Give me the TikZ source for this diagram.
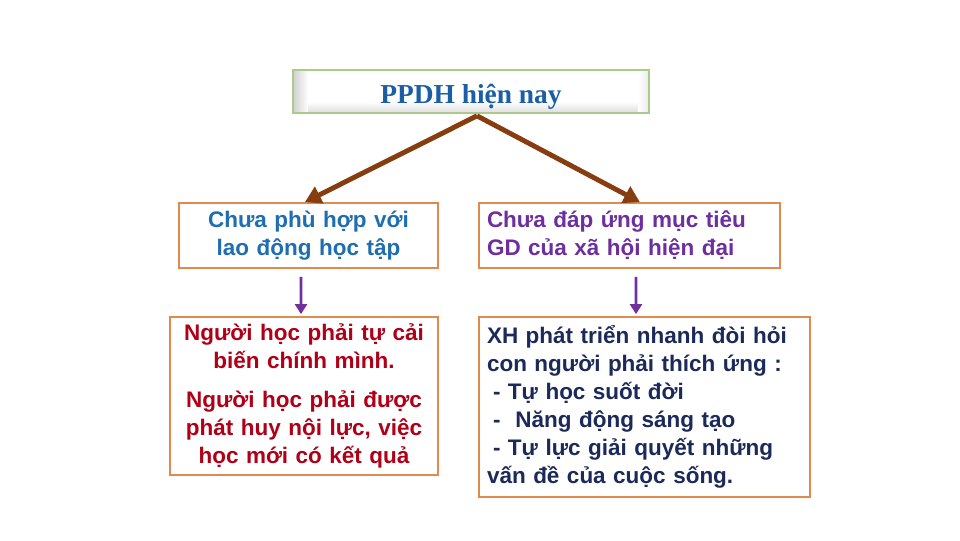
\documentclass[tikz,border=0pt]{standalone}
\usepackage{fontspec}
\setmainfont{Liberation Sans}
\newfontfamily\titlefont{Liberation Serif}
\usetikzlibrary{arrows.meta,backgrounds}
\definecolor{titlegreen}{HTML}{A9CB8C}
\definecolor{titleblue}{HTML}{1A5FA6}
\definecolor{boxorange}{HTML}{E08A4E}
\definecolor{arrowbrown}{HTML}{873D10}
\definecolor{arrowpurple}{HTML}{7030A0}
\definecolor{textblue}{HTML}{1F6EB0}
\definecolor{textpurple}{HTML}{6E2F9E}
\definecolor{textred}{HTML}{B00018}
\definecolor{textnavy}{HTML}{1C2A5A}

\begin{document}
\begin{tikzpicture}[
    titlebox/.style = {draw=titlegreen, line width=1.2pt, minimum width=8.9cm,
        minimum height=1.075cm, text height=0.67cm, text depth=0.05cm},
    textbox/.style = {draw=boxorange, line width=1.3pt, fill=white, inner xsep=0.2cm,
        font=\bfseries\fontsize{16}{20}\selectfont},
    brownarrow/.style = {draw=arrowbrown, line width=3.5pt,
        -{Triangle[length=0.4cm,width=0.45cm]}},
    purplearrow/.style = {draw=arrowpurple, line width=2pt,
        -{Triangle[length=0.25cm,width=0.3cm]}}
]
    \useasboundingbox (0,0) rectangle (24,13.5);
    % tieu de
    \node[titlebox, text=titleblue, font=\titlefont\bfseries\fontsize{19.5}{22}\selectfont]
        (title) at (11.775,11.2125) {PPDH hiện nay};
    % vien noi cua tieu de
    \begin{pgfonlayer}{background}
        \shade[bottom color=gray!25, top color=white]
            ([shift={(1.2pt,1.2pt)}]title.south west) rectangle ([shift={(-1.2pt,0.3cm)}]title.south east);
        \shade[left color=gray!35, right color=white]
            ([shift={(1.2pt,1.2pt)}]title.south west) rectangle ([shift={(0.4cm,-1.2pt)}]title.north west);
        \shade[right color=gray!15, left color=white]
            ([shift={(-0.3cm,1.2pt)}]title.south east) rectangle ([shift={(-1.2pt,-1.2pt)}]title.north east);
    \end{pgfonlayer}
    \coordinate (apex) at ([xshift=0.15cm,yshift=-0.05cm]title.south);
    % hang thu nhat
    \node[textbox, text=textblue, text width=6.075cm, align=center, minimum height=1.625cm]
        (left1) at (7.7125,7.6125) {Chưa phù hợp với\\ lao động học tập};
    \node[textbox, text=textpurple, text width=7.125cm, align=left, minimum height=1.625cm]
        (right1) at (15.7375,7.6125) {Chưa đáp ứng mục tiêu\\ GD của xã hội hiện đại};
    % hang thu hai
    \node[textbox, text=textred, text width=6.3cm, align=center, minimum height=3.95cm]
        (left2) at (7.6,3.6) {Người học phải tự cải\\ biến chính mình.\\[0.25cm]
        Người học phải được\\ phát huy nội lực, việc\\ học mới có kết quả};
    \node[textbox, text=textnavy, text width=7.875cm, align=left, minimum height=4.5cm]
        (right2) at (16.1125,3.325) {XH phát triển nhanh đòi hỏi\\ con người phải thích ứng :\\
        \hspace*{0.15cm}- Tự học suốt đời\\ \hspace*{0.15cm}-\ \ Năng động sáng tạo\\
        \hspace*{0.15cm}- Tự lực giải quyết những\\ vấn đề của cuộc sống.};
    % mui ten
    \draw[brownarrow] (apex) -- ([xshift=-0.09cm]left1.north);
    \draw[brownarrow] (apex) -- ([xshift=0.26cm]right1.north);
    \draw[purplearrow] ([shift={(-0.19,-0.2)}]left1.south) -- ([shift={(-0.075,0.05)}]left2.north);
    \draw[purplearrow] ([shift={(0.16,-0.2)}]right1.south) -- ([shift={(-0.2125,0.05)}]right2.north);
\end{tikzpicture}
\end{document}
